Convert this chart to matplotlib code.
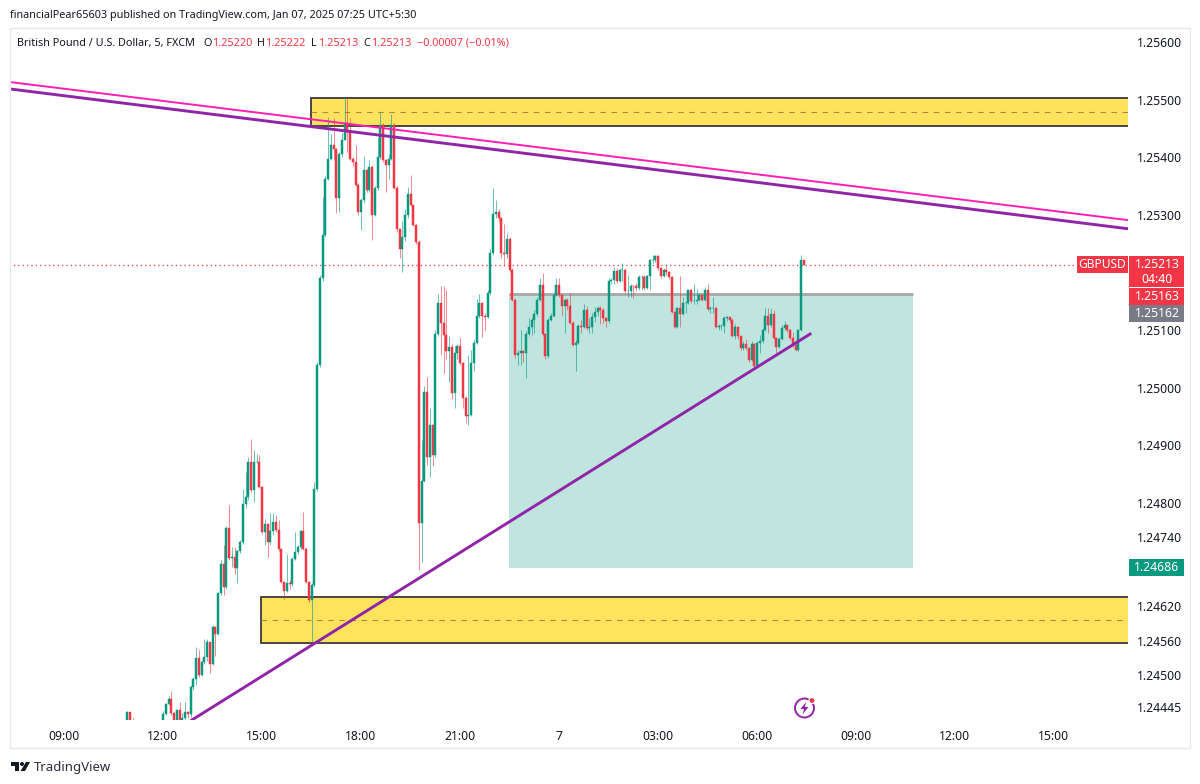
import numpy as np
import matplotlib
matplotlib.use("Agg")
import matplotlib.pyplot as plt
from matplotlib.patches import Rectangle, Circle, Polygon

plt.rcParams['font.family'] = ['Noto Sans', 'DejaVu Sans']

# price in 1e-5 units, first bar is index 23 (09:00 = 0, 5 minute bars)
first_bar = 23
first_open = 124410
closes = [124436,124420,124405,124410,124400,124395,124390,124398,124392,124388,
          124395,124400,124410,124433,124450,124459,124434,124415,124439,124420,
          124425,124436,124433,124479,124494,124529,124500,124523,124531,124557,
          124520,124584,124572,124642,124694,124654,124756,124704,124705,124686,
          124716,124731,124798,124810,124871,124821,124871,124871,124827,124749,
          124762,124732,124750,124766,124752,124719,124662,124647,124660,124659,
          124702,124714,124723,124751,124720,124662,124631,124656,124823,125039,
          125190,125265,125363,125398,125421,125415,125329,125406,125430,125459,
          125445,125398,125392,125352,125305,125326,125378,125344,125384,125300,
          125346,125401,125456,125395,125387,125398,125456,125347,125276,125240,
          125262,125300,125337,125317,125282,125253,124764,124837,124993,124880,
          124935,124883,125093,125147,125112,125092,125063,125070,124990,125060,
          125072,125042,124981,124950,124953,125042,125078,125124,125147,125124,
          125122,125164,125234,125302,125305,125295,125233,125232,125259,125205,
          125153,125057,125060,125063,125060,125093,125105,125118,125127,125153,
          125179,125093,125054,125118,125125,125161,125179,125161,125142,125153,
          125142,125113,125074,125077,125107,125106,125135,125103,125106,125122,
          125132,125138,125135,125121,125115,125185,125187,125202,125185,125205,
          125205,125167,125167,125177,125176,125173,125192,125192,125173,125193,
          125221,125222,125229,125208,125194,125204,125200,125192,125131,125105,
          125138,125128,125147,125147,125169,125150,125150,125153,125161,125153,
          125170,125136,125138,125138,125106,125107,125107,125121,125122,125118,
          125089,125106,125089,125068,125076,125068,125048,125076,125038,125078,
          125080,125100,125125,125109,125127,125086,125071,125084,125103,125109,
          125100,125086,125074,125066,125100,125222,125213]
highs = [124438,124436,124425,124422,124408,124404,124398,124406,124400,124396,
         124403,124408,124416,124437,124452,124463,124472,124436,124441,124453,
         124435,124453,124438,124482,124496,124549,124543,124527,124563,124563,
         124558,124587,124585,124644,124700,124726,124760,124795,124723,124723,
         124718,124735,124823,124853,124879,124911,124891,124885,124882,124829,
         124772,124764,124781,124781,124778,124769,124721,124664,124710,124665,
         124705,124749,124726,124753,124784,124722,124664,124660,124835,125045,
         125195,125331,125368,125471,125441,125468,125417,125410,125442,125505,
         125502,125468,125400,125421,125355,125330,125402,125380,125395,125386,
         125350,125436,125479,125459,125398,125405,125476,125459,125350,125276,
         125290,125310,125349,125369,125317,125285,125257,124909,125002,125019,
         124964,124937,125100,125163,125176,125176,125170,125090,125075,125072,
         125075,125086,125045,124985,125057,125065,125085,125154,125163,125149,
         125130,125170,125240,125346,125326,125310,125297,125285,125268,125262,
         125207,125155,125066,125100,125065,125098,125121,125122,125135,125158,
         125190,125199,125095,125120,125130,125165,125190,125190,125163,125156,
         125155,125164,125115,125082,125110,125118,125145,125141,125120,125130,
         125140,125142,125142,125138,125123,125190,125190,125210,125207,125208,
         125217,125207,125196,125180,125179,125182,125195,125195,125195,125196,
         125224,125231,125231,125231,125210,125207,125214,125202,125194,125132,
         125140,125193,125158,125150,125172,125172,125180,125171,125165,125163,
         125175,125180,125142,125158,125140,125110,125110,125124,125125,125123,
         125120,125110,125107,125090,125080,125085,125070,125080,125078,125080,
         125092,125104,125138,125138,125138,125135,125088,125087,125108,125115,
         125111,125102,125096,125076,125102,125231,125222]
lows = [124405,124410,124400,124400,124390,124385,124380,124388,124382,124378,
        124385,124390,124398,124400,124430,124448,124430,124410,124412,124410,
        124412,124415,124425,124428,124474,124482,124497,124498,124520,124525,
        124504,124518,124534,124570,124640,124639,124650,124700,124688,124676,
        124660,124712,124728,124790,124805,124818,124801,124868,124825,124745,
        124727,124705,124726,124744,124748,124716,124660,124633,124645,124650,
        124655,124700,124710,124720,124718,124660,124628,124555,124654,124820,
        125035,125185,125262,125360,125395,125395,125304,125305,125400,125430,
        125410,125395,125385,125350,125300,125273,125320,125340,125340,125256,
        125298,125344,125398,125392,125340,125363,125395,125345,125270,125225,
        125201,125255,125295,125315,125280,125250,124683,124697,124835,124866,
        124845,124863,124880,125090,125057,125026,125050,125010,124980,124964,
        125050,125040,124964,124938,124935,124950,125028,125075,125120,125088,
        125100,125120,125160,125230,125295,125290,125225,125212,125225,125200,
        125150,125051,125040,125040,125045,125016,125090,125092,125095,125125,
        125150,125090,125050,125052,125115,125123,125159,125158,125125,125095,
        125135,125110,125072,125028,125075,125095,125104,125100,125095,125095,
        125114,125125,125110,125113,125105,125113,125180,125180,125182,125183,
        125185,125165,125158,125158,125156,125168,125170,125170,125170,125171,
        125170,125216,125218,125205,125190,125192,125196,125188,125130,125103,
        125103,125106,125126,125130,125145,125147,125145,125146,125150,125150,
        125150,125133,125130,125130,125103,125100,125100,125095,125115,125112,
        125087,125085,125085,125065,125066,125065,125045,125046,125035,125036,
        125060,125078,125098,125095,125105,125084,125060,125068,125082,125100,
        125096,125082,125070,125063,125064,125098,125213]

price_ticks = [1.25600, 1.25500, 1.25400, 1.25300, 1.25100, 1.25000, 1.24900,
               1.24800, 1.24740, 1.24620, 1.24560, 1.24500, 1.24445]
time_ticks = [0, 36, 72, 108, 144, 180, 216, 252, 288, 324, 360]
time_labels = ['09:00', '12:00', '15:00', '18:00', '21:00', '7', '03:00',
               '06:00', '09:00', '12:00', '15:00']

# drawings on the chart, bar index and price
top_zone = (89.8, 1.25455, 1.25503)
low_zone = (71.6, 1.24556, 1.24636)
box_x = (161.8, 308.7)
box_y = (1.24686, 1.25163)
pink_x, pink_y = [-19.6, 386.9], [1.25531, 1.25291]
upper_x, upper_y = [-19.6, 386.9], [1.25519, 1.25276]
rise_x, rise_y = [46.5, 271.3], [1.24422, 1.25093]
last_price = 1.25213

GREEN = '#089981'
RED = '#F23645'
INK = '#131722'
YELLOW = '#FFE25E'
PURPLE = '#9125A8'
PINK = '#FF1FB4'

fig = plt.figure(figsize=(12, 7.84), dpi=100)
ax = fig.add_axes([10 / 1200, 64 / 784, 1118 / 1200, 692 / 784])
ax.set_xlim(-19.64, 386.9)
ax.set_ylim(1.24422, 1.25625)
for s in ax.spines.values():
    s.set_visible(False)

# zones and target box
for (x0, lo, hi) in [top_zone, low_zone]:
    ax.add_patch(Rectangle((x0, lo), 400, hi - lo, fc=YELLOW, ec='#3a3a3a', lw=1.3, zorder=1))
    ax.plot([x0, 400], [(lo + hi) / 2] * 2, color='#b08a3c', lw=0.8, ls=(0, (5, 5)), zorder=1.5)
ax.add_patch(Rectangle((box_x[0], box_y[0]), box_x[1] - box_x[0], box_y[1] - box_y[0],
                       fc='#C0E5DF', ec='none', zorder=1))
ax.plot(box_x, [box_y[1], box_y[1]], color='#A8A8A8', lw=2, zorder=1.6, solid_capstyle='butt')

# candles
c = np.array(closes) / 1e5
h = np.array(highs) / 1e5
l = np.array(lows) / 1e5
o = np.r_[first_open / 1e5, c[:-1]]
x = first_bar + np.arange(len(c))
cols = np.where(c >= o, GREEN, RED)
ax.vlines(x, l, h, colors=cols, lw=0.7, alpha=0.6, zorder=2)
ax.bar(x, c - o, bottom=o, width=0.72, color=cols, edgecolor=cols, lw=0.35, zorder=3)

ax.plot([-20, 387], [last_price, last_price], color=RED, lw=0.9, ls=(0, (1, 2.5)), zorder=1.8)

ax.plot(pink_x, pink_y, color=PINK, lw=1.4, zorder=4)
ax.plot(upper_x, upper_y, color=PURPLE, lw=2.1, zorder=4)
ax.plot(rise_x, rise_y, color=PURPLE, lw=2.1, zorder=4)

ax.yaxis.tick_right()
ax.set_yticks(price_ticks)
ax.set_yticklabels(['%.5f' % p for p in price_ticks], fontsize=8.8, color=INK)
ax.set_xticks(time_ticks)
ax.set_xticklabels(time_labels, fontsize=8.8, color=INK)
ax.get_xticklabels()[5].set_fontweight('bold')
ax.tick_params(axis='y', length=0, pad=6.5)
ax.tick_params(axis='x', length=0, pad=7)

# overlay in pixel coordinates for header, price tags and logo
ov = fig.add_axes([0, 0, 1, 1])
ov.set_xlim(0, 1200)
ov.set_ylim(784, 0)
ov.axis('off')
ov.patch.set_alpha(0)

ov.add_patch(Rectangle((10, 28), 1180, 720, fc='none', ec='#E6E8EE', lw=1))

ov.text(10, 15, 'financialPear65603 published on TradingView.com, Jan 07, 2025 07:25 UTC+5:30',
        fontsize=7.8, color=INK, va='center')
ov.text(17, 43, 'British Pound / U.S. Dollar, 5, FXCM', fontsize=7.8, color=INK, va='center')
for px, letter in [(203, 'O'), (257, 'H'), (311, 'L'), (363, 'C')]:
    ov.text(px, 43, letter, fontsize=7.8, color=INK, va='center')
for px, txt in [(212, '1.25220'), (265, '1.25222'), (318, '1.25213'), (371, '1.25213'),
                (417, '\u22120.00007 (\u22120.01%)')]:
    ov.text(px, 43, txt, fontsize=7.8, color=RED, va='center')

# price tags
tags = [(1077, 256, 51, 16.5, RED), (1129, 256, 55, 31, RED), (1129, 288, 55, 17, RED),
        (1129, 305, 55, 16.5, '#787B86'), (1129, 559, 55, 17, GREEN)]
for (tx, ty, tw, th, col) in tags:
    ov.add_patch(Rectangle((tx, ty), tw, th, fc=col, ec='none'))
ov.text(1102, 264.5, 'GBPUSD', fontsize=8.6, color='white', ha='center', va='center')
for ty, txt in [(264.5, '1.25213'), (279, '04:40'), (296.5, '1.25163'), (313, '1.25162'), (567.5, '1.24686')]:
    ov.text(1157, ty, txt, fontsize=8.8, color='white', ha='center', va='center')

# lightning icon
ov.add_patch(Circle((804.5, 708), 9.5, fc='none', ec=PURPLE, lw=1.4))
ov.add_patch(Circle((812, 700.5), 3, fc=RED, ec='white', lw=0.8))
ov.add_patch(Polygon([(806, 702), (800.5, 709), (804, 709), (802.5, 714.5), (808.5, 707), (805, 707)],
                     fc=PURPLE, ec='none'))

# TradingView logo
ov.add_patch(Polygon([(11, 762), (19, 762), (19, 771), (15, 771), (15, 766), (11, 766)], fc=INK, ec='none'))
ov.add_patch(Circle((22, 764), 2, fc=INK, ec='none'))
ov.add_patch(Polygon([(26, 762), (30, 762), (25, 771), (20.5, 771)], fc=INK, ec='none'))
ov.text(34, 767, 'TradingView', fontsize=9.5, color='#2a2e39', va='center')

fig.savefig('out.png', dpi=100)
